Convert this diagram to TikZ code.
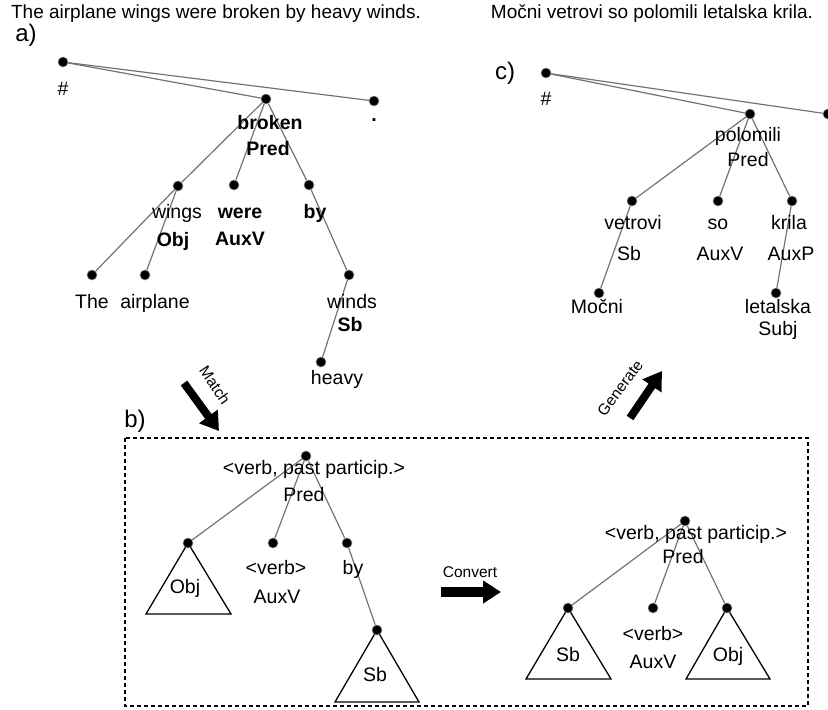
\documentclass[tikz,border=0pt]{standalone}
\usepackage{fontspec}
\setmainfont{Liberation Sans}
\usetikzlibrary{arrows.meta, positioning, calc}
\tikzset{
  dot/.style={circle,fill=black,draw=black!45,line width=.6pt,inner sep=0pt,minimum size=10pt},
  word/.style={inner sep=0pt,text height=.72em,text depth=.2em,font=\fontsize{19.5}{22}\selectfont},
  func/.style={word,font=\fontsize{19.5}{22}\selectfont\bfseries},
  dep/.style={draw=black!55,line width=1.2pt},
  subtree/.style={draw=black,line width=1.3pt,line join=miter},
  bigarrow/.style={line width=8pt,-{Triangle[length=18pt,width=22pt]}},
  arrowlbl/.style={inner sep=0pt,font=\fontsize{15.5}{17}\selectfont},
  panel/.style={inner sep=0pt,font=\fontsize{24}{26}\selectfont},
  sentence/.style={inner sep=0pt,font=\fontsize{19}{22}\selectfont},
  frame/.style={draw=black,line width=1.2pt,dash pattern=on 4pt off 3pt},
}
\pgfdeclarelayer{back}
\pgfsetlayers{back,main}
\begin{document}
\begin{tikzpicture}[x=1pt,y=-1pt]
    \useasboundingbox (0,0) rectangle (828,710);
    \node[sentence] (senten) at (216,14) {The airplane wings were broken by heavy winds.};
    \node[sentence] (sentsl) at (652,14) {Močni vetrovi so polomili letalska krila.};
    % a) source tree
    \node[panel] (pa) at (26,35) {a)};
    \node[dot] (ahash) at (63,62) {};
    \node[dot] (abroken) at (266,99) {};
    \node[dot] (aperiod) at (374,101) {};
    \node[dot] (awings) at (178,186) {};
    \node[dot] (awere) at (234,185) {};
    \node[dot] (aby) at (309,185) {};
    \node[dot] (athe) at (92,275) {};
    \node[dot] (aairplane) at (145,275) {};
    \node[dot] (awinds) at (349,275) {};
    \node[dot] (aheavy) at (321,362) {};
    \node[word] (lahash) at (63,93) {\#};
    \node[func] (labroken) at (270,127) {broken};
    \node[func] (labpred) at (268,153) {Pred};
    \node[func] (laperiod) at (374,119) {.};
    \node[word] (lawings) at (177,216) {wings};
    \node[func] (lawobj) at (173,244) {Obj};
    \node[func] (lawere) at (240,216) {were};
    \node[func] (laauxv) at (240,243) {AuxV};
    \node[func] (laby) at (315,216) {by};
    \node[word] (lathe) at (92,306) {The};
    \node[word] (laairplane) at (155,306) {airplane};
    \node[word] (lawinds) at (352,306) {winds};
    \node[func] (lasb) at (350,329) {Sb};
    \node[word] (laheavy) at (337,382) {heavy};
    % c) generated tree
    \node[panel] (pc) at (505,73) {c)};
    \node[dot] (chash) at (546,73) {};
    \node[dot] (cpolomili) at (750,114) {};
    \node[dot] (cperiod) at (828,114) {};
    \node[dot] (cvetrovi) at (632,201) {};
    \node[dot] (cso) at (718,201) {};
    \node[dot] (ckrila) at (792,201) {};
    \node[dot] (cmocni) at (599,293) {};
    \node[dot] (cletalska) at (776,293) {};
    \node[word] (lchash) at (546,103) {\#};
    \node[word] (lcpolomili) at (748,139) {polomili};
    \node[word] (lcpred) at (748,164) {Pred};
    \node[word,text=black!30] (lcperiod) at (829,132) {.};
    \node[word] (lcvetrovi) at (633,227) {vetrovi};
    \node[word] (lcsb) at (629,258) {Sb};
    \node[word] (lcso) at (718,227) {so};
    \node[word] (lcauxv) at (720,258) {AuxV};
    \node[word] (lckrila) at (789,227) {krila};
    \node[word] (lcauxp) at (791,258) {AuxP};
    \node[word] (lcmocni) at (597,311) {Močni};
    \node[word] (lcletalska) at (778,311) {letalska};
    \node[word] (lcsubj) at (778,333) {Subj};
    % b) transfer rule
    \node[panel] (pb) at (135,421) {b)};
    \draw[frame] (125,438) rectangle (808,706);
    \node[dot] (lpred) at (306,456) {};
    \node[dot] (lobj) at (188,543) {};
    \node[dot] (laux) at (273,543) {};
    \node[dot] (lby) at (347,543) {};
    \node[dot] (lsb) at (377,630) {};
    \node[word] (llpost) at (314,472) {<verb, past particip.>};
    \node[word] (llpred) at (304,499) {Pred};
    \node[word] (llobj) at (185,591) {Obj};
    \node[word] (llverb) at (276,572) {<verb>};
    \node[word] (llauxv) at (277,601) {AuxV};
    \node[word] (llby) at (353,572) {by};
    \node[word] (llsb) at (375,679) {Sb};
    \node[dot] (rpred) at (685,521) {};
    \node[dot] (rsb) at (568,608) {};
    \node[dot] (raux) at (653,608) {};
    \node[dot] (robj) at (727,608) {};
    \node[word] (lrpost) at (696,537) {<verb, past particip.>};
    \node[word] (lrpred) at (683,561) {Pred};
    \node[word] (lrsb) at (568,659) {Sb};
    \node[word] (lrverb) at (653,638) {<verb>};
    \node[word] (lrauxv) at (653,666) {AuxV};
    \node[word] (lrobj) at (728,659) {Obj};
    % big arrows
    \coordinate (mtail) at (184,383);
    \coordinate (mtip) at (219,431);
    \draw[bigarrow] (mtail) -- (mtip);
    \node[arrowlbl,rotate=-56] (lmatch) at (215,385) {Match};
    \coordinate (gtail) at (630,418);
    \coordinate (gtip) at (662,371);
    \draw[bigarrow] (gtail) -- (gtip);
    \node[arrowlbl,rotate=53] (lgenerate) at (620,388) {Generate};
    \coordinate (ctail) at (441,592);
    \coordinate (ctip) at (501,592);
    \draw[bigarrow,line width=10pt] (ctail) -- (ctip);
    \node[arrowlbl] (lconvert) at (470,572) {Convert};
    \begin{pgfonlayer}{back}
      \draw[dep] (ahash) -- (abroken);
      \draw[dep] (ahash) -- (aperiod);
      \draw[dep] (abroken) -- (awings);
      \draw[dep] (abroken) -- (awere);
      \draw[dep] (abroken) -- (aby);
      \draw[dep] (awings) -- (athe);
      \draw[dep] (awings) -- (aairplane);
      \draw[dep] (aby) -- (awinds);
      \draw[dep] (awinds) -- (aheavy);
      \draw[dep] (chash) -- (cpolomili);
      \draw[dep] (chash) -- (cperiod);
      \draw[dep] (cpolomili) -- (cvetrovi);
      \draw[dep] (cpolomili) -- (cso);
      \draw[dep] (cpolomili) -- (ckrila);
      \draw[dep] (cvetrovi) -- (cmocni);
      \draw[dep] (ckrila) -- (cletalska);
      \draw[dep] (lpred) -- (lobj);
      \draw[dep] (lpred) -- (laux);
      \draw[dep] (lpred) -- (lby);
      \draw[dep] (lby) -- (lsb);
      \draw[dep] (rpred) -- (rsb);
      \draw[dep] (rpred) -- (raux);
      \draw[dep] (rpred) -- (robj);
      \draw[subtree] (lobj.center) -- ++(-42,71) -- ++(85,0) -- cycle;
      \draw[subtree] (lsb.center) -- ++(-42,72) -- ++(84,0) -- cycle;
      \draw[subtree] (rsb.center) -- ++(-42,71) -- ++(85,0) -- cycle;
      \draw[subtree] (robj.center) -- ++(-41,71) -- ++(84,0) -- cycle;
    \end{pgfonlayer}
\end{tikzpicture}
\end{document}
